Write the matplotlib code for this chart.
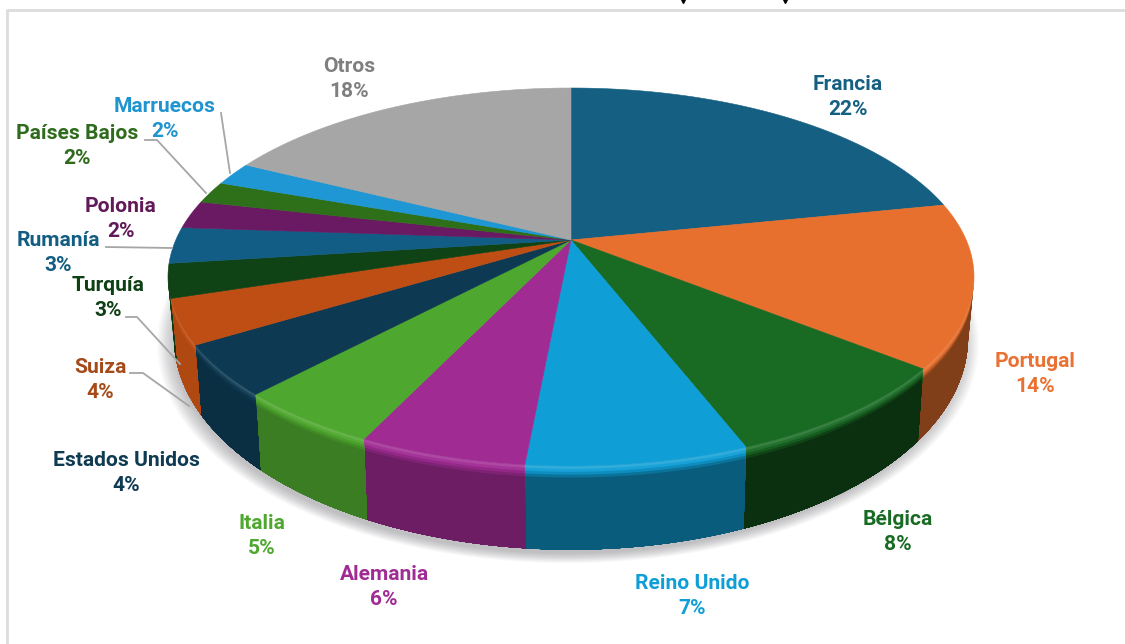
import numpy as np
import matplotlib
matplotlib.use('Agg')
import matplotlib.pyplot as plt
from matplotlib.colors import to_rgb

# chart data (labels show the rounded shares)
countries = ['Francia', 'Portugal', 'Bélgica', 'Reino Unido', 'Alemania', 'Italia', 'Estados Unidos',
             'Suiza', 'Turquía', 'Rumanía', 'Polonia', 'Países Bajos', 'Marruecos', 'Otros']
shares = [21.8, 13.9, 8.4, 7.4, 5.6, 4.9, 4.3, 3.8, 2.9, 3.1, 2.4, 1.9, 2.0, 17.6]

# colours
top_colors = ['#156082', '#E8702E', '#196B24', '#0F9ED5', '#A02B93', '#4EA72E', '#0D3A52',
              '#BF4E14', '#0F4214', '#125D85', '#6A1A62', '#2E7019', '#1F97D4', '#A6A6A6']
text_colors = ['#156082', '#E97132', '#196B24', '#0F9ED5', '#A02B93', '#4EA72E', '#0E3A52',
               '#A54A19', '#0F4015', '#125D82', '#601A58', '#2F6B1C', '#1F94CE', '#7F7F7F']
# how much darker each wall is than its top, light comes from the left
wall_dark = [0.5, 0.45, 0.55, 0.42, 0.32, 0.25, 0.2, 0.08, 0.1, 0.1, 0.1, 0.1, 0.1, 0.1]

# label centres in pixels
label_x = [848, 1035, 898, 692, 384, 262, 126, 100, 108, 58, 121, 77, 165, 349]
label_y = [97, 374, 532, 596, 587, 536, 473, 380, 298, 253, 219, 146, 119, 79]

# leader lines
leaders = [[(221, 113), (230, 173)],
           [(145, 140), (157, 140), (206, 193)],
           [(106, 247), (172, 248)],
           [(126, 317), (137, 317), (180, 364)],
           [(130, 373), (143, 373), (189, 406)]]

# pie geometry in pixels
cx, cy = 571, 277      # ellipse centre
apex_up = 37           # how far the pie centre sits above the ellipse centre
ry = 189
rx = 403
k = apex_up / ry
a = rx * np.sqrt(1 - k**2)
bottom_cy = 338        # bottom rim is a slightly narrower, flatter shifted ellipse
bottom_sx = 0.985
bottom_sy = 1.12


def project(theta, scale=1.0):
    # theta clockwise from the top of the pie, perspective view of a disc
    u = scale * np.sin(theta)
    v = scale * np.cos(theta)
    d = 1 + k * v
    return cx + a * u / d, cy - (ry * v + apex_up) / d


def bottom_rim(x, y):
    return cx + (x - cx) * bottom_sx, bottom_cy + (y - cy) * bottom_sy


def mix(col, other, f):
    c = np.array(to_rgb(col))
    o = np.array(to_rgb(other))
    return tuple(c * (1 - f) + o * f)


fig = plt.figure(figsize=(11.25, 6.44), dpi=100)
ax = fig.add_axes([0, 0, 1, 1])
ax.set_xlim(0, 1125)
ax.set_ylim(644, 0)
ax.axis('off')

# frame of the original slide
ax.plot([7, 7, 1125], [644, 10, 10], color='#DCDCDC', lw=2, zorder=1)
ax.plot([683, 785], [0, 0], ls='none', marker='v', ms=5, color='black', zorder=1, clip_on=True)

# soft shadow under the pie
all_t = np.linspace(0, 2 * np.pi, 400)
sx, sy = bottom_rim(*project(all_t))
for s in np.linspace(1.035, 0.99, 18):
    ax.fill(cx - 3 + (sx - cx) * s, bottom_cy + 6 + (sy - bottom_cy) * s, color='#707078', alpha=0.028, lw=0, zorder=2)

edges = np.deg2rad(np.cumsum([0] + shares) * 3.6)

# walls first, each band reaches down to the bottom edge so no seams show
fractions = np.linspace(0, 1, 30)
for i in range(len(shares)):
    t = np.linspace(edges[i], edges[i + 1], 80)
    x, y = project(t)
    # only the front half of the rim shows a wall
    keep = np.gradient(x) < 0
    if not keep.any():
        continue
    x, y = x[keep], y[keep]
    bx, by = bottom_rim(x, y)
    for f in fractions[:-1]:
        if f < 0.05:
            col = mix(top_colors[i], '#FFFFFF', 0.14 * (1 - f / 0.05))
        else:
            col = mix(top_colors[i], '#000000', wall_dark[i] * min((f - 0.05) / 0.08, 1))
        ux = x + (bx - x) * f
        uy = y + (by - y) * f
        ax.fill(np.r_[ux, bx[::-1]], np.r_[uy, by[::-1]], color=col, lw=0, zorder=3)

# top of the pie
xa, ya = project(0.0, 0.0)
for i in range(len(shares)):
    t = np.linspace(edges[i], edges[i + 1], 120)
    x, y = project(t)
    ax.fill(np.r_[xa, x], np.r_[ya, y], color=top_colors[i], ec=top_colors[i], lw=0.4, zorder=4)

for pts in leaders:
    ax.plot([p[0] for p in pts], [p[1] for p in pts], color='#A6A6A6', lw=1.3, zorder=5)

for name, val, lx, ly, col in zip(countries, shares, label_x, label_y, text_colors):
    ax.text(lx, ly, f'{name}\n{round(val)}%', ha='center', va='center', color=col, family='Roboto',
            weight='bold', fontsize=15.1, linespacing=1.36, zorder=6)

fig.savefig('out.png', dpi=100)
